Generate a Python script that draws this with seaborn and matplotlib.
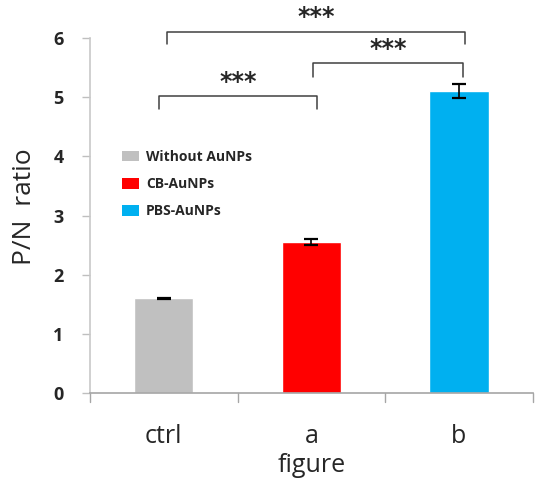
import matplotlib
matplotlib.use("Agg")
import matplotlib.pyplot as plt
import seaborn as sns
import pandas as pd
from matplotlib.patches import Patch

categories = ["ctrl", "a", "b"]
values = [1.6, 2.55, 5.1]
errors = [0.01, 0.05, 0.12]
legend_labels = ["Without AuNPs", "CB-AuNPs", "PBS-AuNPs"]
colors = ["#c0c0c0", "#ff0000", "#00b0f0"]
yticks = [0, 1, 2, 3, 4, 5, 6]
# significance comparisons: (i, j, bar-height, leg-left, leg-right)
sig_pairs = [(0, 2, 6.11, 5.90, 5.90), (1, 2, 5.58, 5.35, 5.35), (0, 1, 5.02, 4.80, 4.80)]
sig_labels = ["***", "***", "***"]

sns.set_style("white")
plt.rcParams["font.family"] = ["Open Sans", "DejaVu Sans"]

df = pd.DataFrame({"cat": categories, "val": values})
fig = plt.figure(figsize=(5.36, 4.79), dpi=100)
ax = fig.add_axes([0.168, 0.1795, 0.826, 0.741])

sns.barplot(data=df, x="cat", y="val", hue="cat", palette=colors, width=0.4,
            legend=False, ax=ax, errorbar=None, saturation=1)
ax.errorbar(range(len(categories)), values, yerr=errors, fmt="none",
            ecolor="black", elinewidth=1.2, capsize=5, capthick=1.6)

ax.set_xlim(-0.5, 2.5)
ax.set_ylim(0, 6)
ax.set_yticks(yticks)
ax.set_yticklabels([str(t) for t in yticks], fontsize=13, fontweight="bold")
ax.set_xticks(range(len(categories)))
ax.set_xticklabels(categories, fontsize=18)
ax.tick_params(axis="x", length=0, pad=22)
ax.tick_params(axis="y", length=6, color="#bfbfbf", width=1, pad=13, left=True)
for b in [-0.5, 0.5, 1.5, 2.5]:
    ax.plot([b, b], [0, -0.15], color="#a6a6a6", lw=1, clip_on=False)

ax.set_xlabel("figure", fontsize=18, va="center")
ax.xaxis.set_label_coords(0.5, -0.205)
ax.set_ylabel("P/N  ratio", fontsize=19, va="center")
ax.yaxis.set_label_coords(-0.149, 0.525)

for s in ["top", "right"]:
    ax.spines[s].set_visible(False)
ax.spines["left"].set_color("#c8c8c8")
ax.spines["bottom"].set_color("#a6a6a6")
ax.spines["left"].set_linewidth(1.2)
ax.spines["bottom"].set_linewidth(1.2)

for (i, j, h, l1, l2), lab in zip(sig_pairs, sig_labels):
    xi = i + (0.02 if (i, j) == (0, 2) else (0.01 if i == 1 else -0.03))
    xj = j + (0.04 if (i, j) == (0, 2) else (0.03 if j == 2 else 0.04))
    ax.plot([xi, xi, xj, xj], [l1, h, h, l2], color="#404040", lw=1.1, clip_on=False)
    ax.text((xi + xj) / 2, h + 0.04, lab, ha="center", va="bottom",
            fontsize=17, fontweight="bold", family="DejaVu Sans")

handles = [Patch(facecolor=c, edgecolor="none") for c in colors]
leg = ax.legend(handles, legend_labels, loc="upper left", bbox_to_anchor=(0.045, 0.72),
                frameon=False, prop={"size": 10, "weight": "bold"},
                handlelength=1.2, handleheight=0.8, handletextpad=0.5, labelspacing=0.95)

fig.savefig("out.png", dpi=100)
